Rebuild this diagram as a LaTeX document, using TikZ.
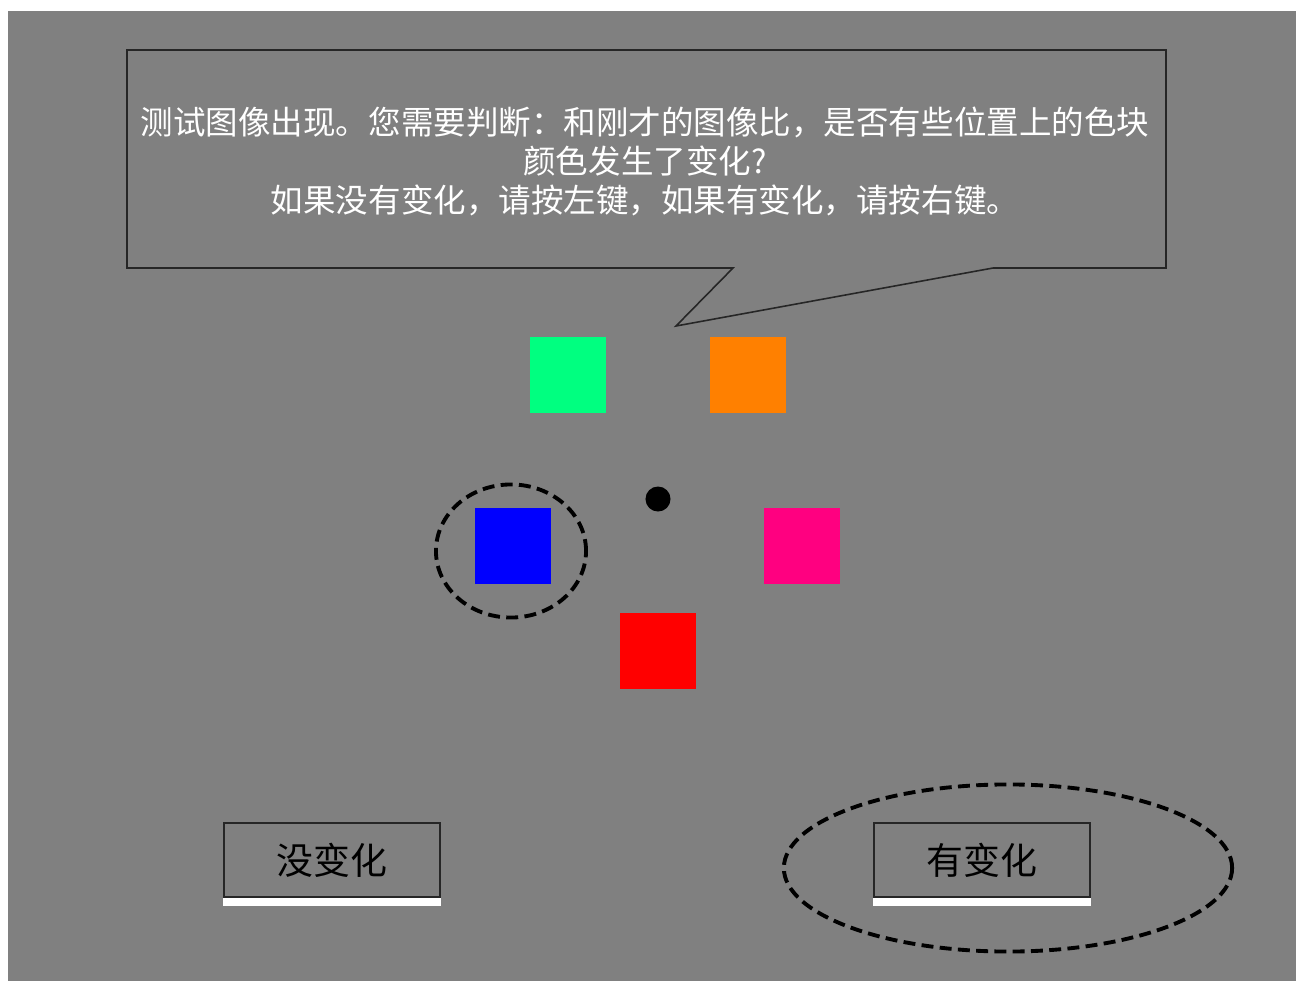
\documentclass[tikz,border=0pt]{standalone}
\usepackage{fontspec}
\newfontfamily\cjk{Noto Sans CJK SC}
\usetikzlibrary{positioning,shapes.geometric}
\definecolor{bggray}{HTML}{808080}
\definecolor{springgreen}{HTML}{00FF80}
\definecolor{tangerine}{HTML}{FF8000}
\definecolor{rosepink}{HTML}{FF0080}
\tikzset{patch/.style={minimum size=0.76cm,inner sep=0pt,outer sep=0pt},
         button/.style={draw=black!85,line width=0.6pt,minimum width=2.16cm,minimum height=0.74cm,
                        inner sep=0pt,font=\cjk\fontsize{10.5}{12}\selectfont,text=black},
         cue/.style={draw=black,line width=1.1pt,dash pattern=on 3.4pt off 1.8pt}
}
\begin{document}
\begin{tikzpicture}[x=0.01cm,y=-0.01cm]
\useasboundingbox (0,0) rectangle (1296,981);
\fill[white] (0,0) rectangle (1296,981);
\fill[bggray] (8,11) rectangle (1296,981);

% speech bubble
\draw[black!85,line width=0.45pt] (127,50) -- (1166,50) -- (1166,268) -- (993,268)
  -- (676,326) -- (733,268) -- (127,268) -- cycle;
\node[text=white,align=center,font=\cjk\fontsize{9.25}{11.1}\selectfont] (msg) at (645,161)
  {测试图像出现。您需要判断：和刚才的图像比，是否有些位置上的色块\\
   颜色发生了变化?\\
   如果没有变化，请按左键，如果有变化，请按右键。};

% colour patches and fixation dot
\node[patch,fill=springgreen] (green) at (568,375) {};
\node[patch,fill=tangerine] (orange) at (748,375) {};
\node[patch,fill=blue] (blue) at (513,546) {};
\node[patch,fill=rosepink] (pink) at (802,546) {};
\node[patch,fill=red] (red) at (658,651) {};
\node[circle,fill=black,minimum size=0.25cm,inner sep=0pt] (fix) at (658,499) {};
\node[cue,ellipse,minimum width=1.5cm,minimum height=1.33cm,inner sep=0pt] (probe) at (511,551) {};

% response buttons
\node[button] (same) at (332,860) {没变化};
\node[button] (diff) at (982,860) {有变化};
\fill[white] (same.south west) rectangle ([yshift=-0.08cm]same.south east);
\fill[white] (diff.south west) rectangle ([yshift=-0.08cm]diff.south east);
\node[cue,ellipse,minimum width=4.48cm,minimum height=1.67cm,inner sep=0pt] (answer) at (1008,868) {};

\end{tikzpicture}
\end{document}
